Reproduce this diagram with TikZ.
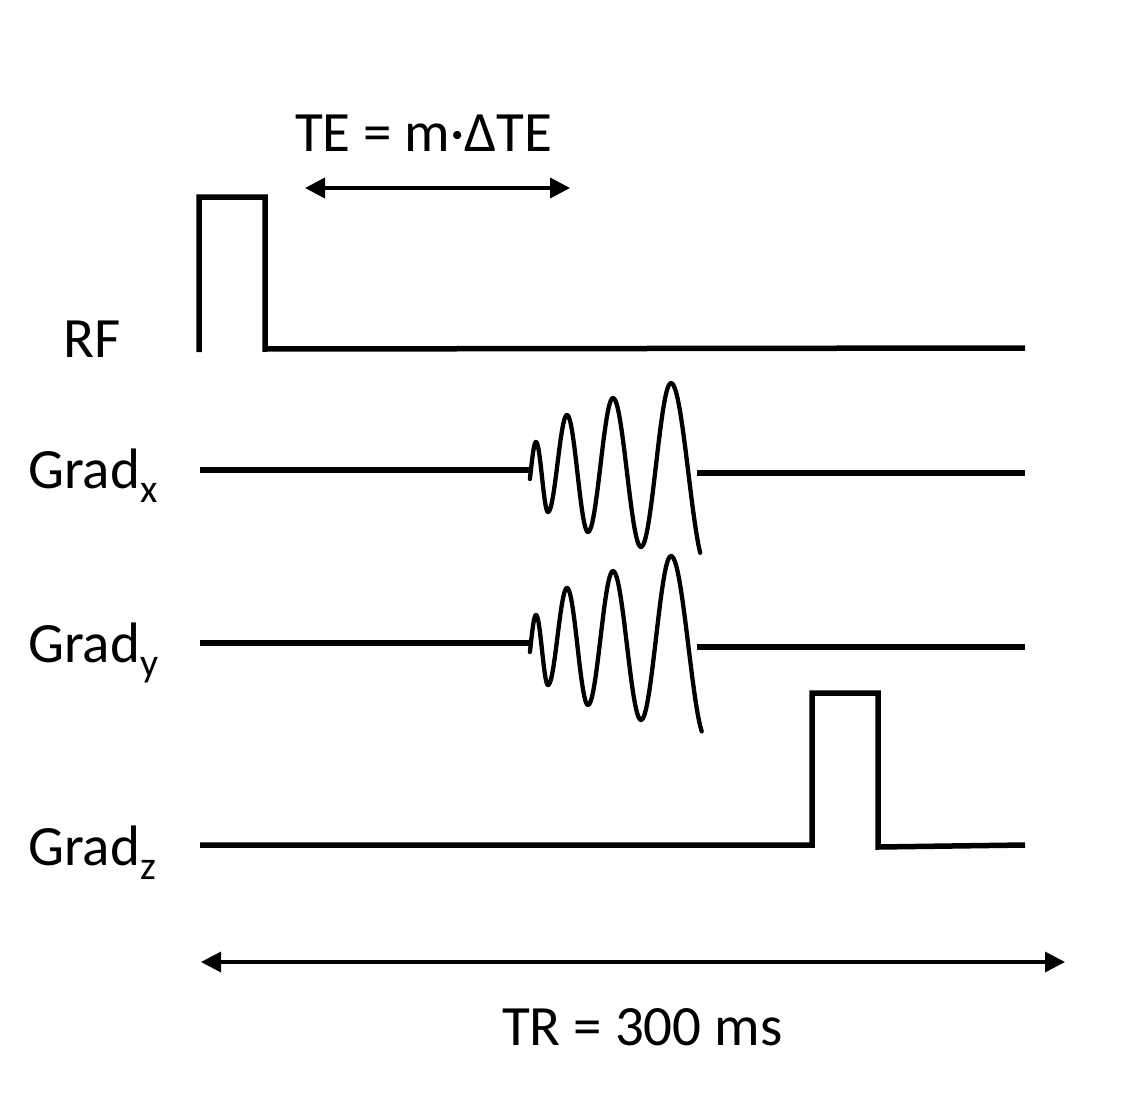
\documentclass[tikz,border=0pt]{standalone}
\usepackage{fontspec}
\setmainfont{Carlito}
\usetikzlibrary{arrows.meta}
\tikzset{
  hw/.style n args={5}{insert path={plot[domain=#5, samples=24, smooth] ({#1+(#3-#1)*\x/180},{(#2+#4)/2+(#2-#4)/2*cos(\x)})}},
  sig/.style={line width=5.5pt, line join=miter},
  wave/.style={line width=4.3pt, line join=round, line cap=round},
  dim/.style={line width=3.5pt, {Triangle[length=20pt,width=20pt]}-{Triangle[length=20pt,width=20pt]}},
  lbl/.style={inner sep=0pt, anchor=base west, font=\fontsize{57}{60}\selectfont},
}
\newcommand{\sbs}[1]{\raisebox{-14pt}{\fontsize{40}{40}\selectfont #1}}
\begin{document}
\begin{tikzpicture}[x=1pt,y=-1pt]
\useasboundingbox (0,0) rectangle (1134,1094);
% labels
\node[lbl] (rf) at (63,357) {RF};
\node[lbl] (gx) at (28,488) {Grad\sbs{x}};
\node[lbl] (gy) at (28,662) {Grad\sbs{y}};
\node[lbl] (gz) at (28,865) {Grad\sbs{z}};
\node[lbl] (te) at (295,152) {TE = m·ΔTE};
\node[lbl] (tr) at (502,1045) {TR = 300 ms};
% RF
\draw[sig] (199,352) -- (199,197) -- (265,197) -- (265,349) -- (1025,348);
% Grad x
\draw[sig] (200,470) -- (530,470);
\draw[sig] (697,473) -- (1025,473);
\draw[wave, hw={525}{505}{536}{442}{80:180}, hw={536}{442}{548}{512}{0:180},
  hw={548}{512}{567}{415}{0:180}, hw={567}{415}{588}{532}{0:180},
  hw={588}{532}{613}{398}{0:180}, hw={613}{398}{641}{547}{0:180},
  hw={641}{547}{671}{383}{0:180}, hw={671}{383}{706}{565}{0:150}];
% Grad y
\draw[sig] (200,643) -- (530,643);
\draw[sig] (697,647) -- (1025,647);
\begin{scope}[yshift=-173pt]
\draw[wave, hw={525}{505}{536}{442}{80:180}, hw={536}{442}{548}{512}{0:180},
  hw={548}{512}{567}{415}{0:180}, hw={567}{415}{588}{532}{0:180},
  hw={588}{532}{613}{398}{0:180}, hw={613}{398}{641}{547}{0:180},
  hw={641}{547}{671}{383}{0:180}, hw={671}{383}{706}{565}{0:158}];
\end{scope}
% Grad z
\draw[sig] (200,845) -- (812,845) -- (812,693) -- (878,693) -- (878,847) -- (1025,845);
% dimension arrows
\coordinate (teL) at (305,188);
\coordinate (teR) at (570,188);
\coordinate (trL) at (201,962);
\coordinate (trR) at (1065,962);
\draw[dim] (teL) -- (teR);
\draw[dim] (trL) -- (trR);
\end{tikzpicture}
\end{document}
